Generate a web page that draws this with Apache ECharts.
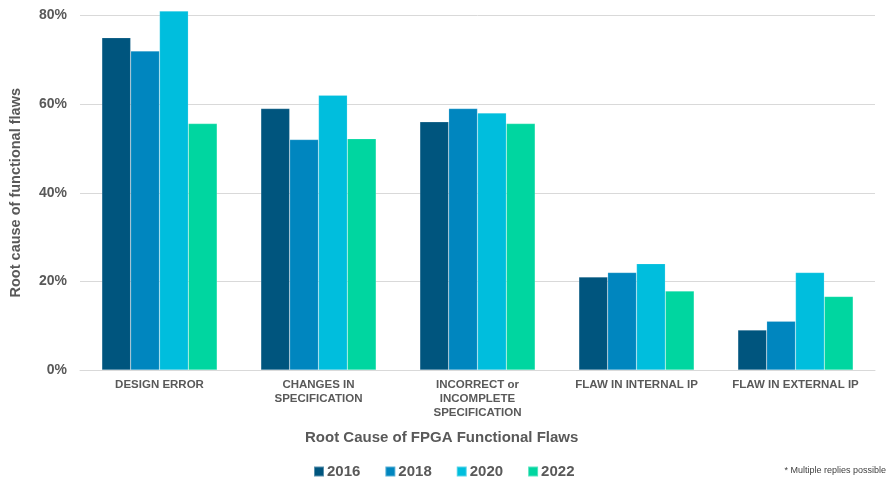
<!DOCTYPE html>
<html>
<head>
<meta charset="utf-8">
<script src="https://cdn.jsdelivr.net/npm/echarts@6/dist/echarts.min.js"></script>
<style>
  html, body { margin: 0; padding: 0; background: #ffffff; }
  #chart { width: 887px; height: 481px; }
</style>
</head>
<body>
<div id="chart"></div>
<script>
// Root causes of FPGA functional flaws, share of projects by survey year
const categories = [
  'DESIGN ERROR',
  'CHANGES IN\nSPECIFICATION',
  'INCORRECT or\nINCOMPLETE\nSPECIFICATION',
  'FLAW IN INTERNAL IP',
  'FLAW IN EXTERNAL IP'
];
const years = ['2016', '2018', '2020', '2022'];
const values2016 = [75, 59, 56, 21, 9];
const values2018 = [72, 52, 59, 22, 11];
const values2020 = [81, 62, 58, 24, 22];
const values2022 = [55.6, 52.2, 55.6, 17.8, 16.6];
const yTicks = [0, 20, 40, 60, 80];

const seriesValues = [values2016, values2018, values2020, values2022];
const palette = ['#00557E', '#0086BF', '#00BEDD', '#00D6A0'];
const textGray = '#595959';
const fontFamily = 'Liberation Sans, Arial, sans-serif';

const chart = echarts.init(document.getElementById('chart'), null, { renderer: 'canvas' });

chart.setOption({
  animation: false,
  color: palette,
  grid: { left: 79, right: 12, top: 15.5, bottom: 111, containLabel: false },
  legend: {
    data: years,
    left: 308,
    top: 459,
    itemWidth: 10,
    itemHeight: 10,
    itemGap: 24,
    icon: 'rect',
    textStyle: { color: textGray, fontSize: 15, fontWeight: 'bold', fontFamily: fontFamily, padding: [0, 0, 0, -2] }
  },
  xAxis: {
    type: 'category',
    data: categories,
    axisLine: { show: true, lineStyle: { color: '#D9D9D9', width: 1 } },
    axisTick: { show: false },
    axisLabel: {
      interval: 0,
      margin: 8,
      color: textGray,
      fontSize: 11.5,
      fontWeight: 'bold',
      fontFamily: fontFamily,
      lineHeight: 14
    }
  },
  yAxis: {
    type: 'value',
    min: yTicks[0],
    max: yTicks[yTicks.length - 1],
    interval: 20,
    name: 'Root cause of functional flaws',
    nameLocation: 'middle',
    nameGap: 57,
    nameRotate: 90,
    nameTextStyle: { color: textGray, fontSize: 14.5, fontWeight: 'bold', fontFamily: fontFamily },
    axisLine: { show: false },
    axisTick: { show: false },
    splitLine: { lineStyle: { color: '#D9D9D9', width: 1 } },
    axisLabel: {
      margin: 13,
      color: textGray,
      fontSize: 14,
      fontWeight: 'bold',
      fontFamily: fontFamily,
      formatter: v => v + '%'
    }
  },
  series: years.map((y, i) => ({
    name: y,
    type: 'bar',
    data: seriesValues[i],
    clip: false,
    barGap: '0%',
    barCategoryGap: '27.5%',
    itemStyle: { color: palette[i], borderColor: 'rgba(255,255,255,0.35)', borderWidth: 0.5 }
  })),
  graphic: [
    {
      type: 'text',
      left: 305,
      top: 430,
      style: {
        text: 'Root Cause of FPGA Functional Flaws',
        fill: textGray,
        font: 'bold 15px ' + fontFamily
      }
    },
    {
      type: 'text',
      right: 1,
      top: 466,
      style: {
        text: '* Multiple replies possible',
        fill: '#404040',
        font: '9px ' + fontFamily
      }
    }
  ]
});
</script>
</body>
</html>
